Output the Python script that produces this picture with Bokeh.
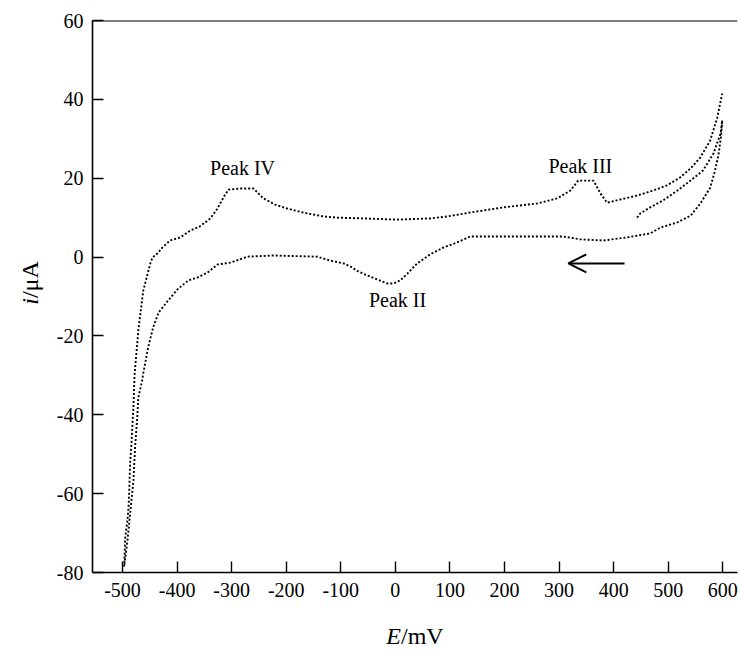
from bokeh.plotting import figure
from bokeh.models import Range1d, FixedTicker, Span, Arrow, OpenHead, Div
from bokeh.layouts import column, row
from bokeh.embed import file_html
from bokeh.resources import INLINE
from bokeh.core.properties import value

# ---- data (E in mV, i in uA) ----
# initial forward scan 443 -> 600 mV
e_start = [443, 449, 467, 491, 517, 541, 564, 583, 596, 599]
i_start = [10.0, 11.1, 12.6, 14.4, 16.9, 19.4, 22.0, 26.3, 31.3, 34.6]

# cathodic scan 600 -> -497 mV (Peak II)
e_cath = [599, 597, 592, 585, 577, 559, 541, 517, 486, 467,
          425, 381, 339, 308, 187, 137, 113, 88, 64, 40,
          22, 9, -3, -15, -33, -51, -70, -82, -95, -119,
          -143, -224, -271, -302, -326, -344, -363, -379, -398, -412,
          -421, -434, -444, -453, -462, -464, -471, -473, -477, -480,
          -486, -491, -497]
i_cath = [34.6, 30.8, 25.8, 21.5, 17.6, 13.6, 10.5, 8.8, 7.5, 6.0,
          5.0, 4.2, 4.5, 5.2, 5.2, 5.2, 3.7, 2.4, 0.7, -1.6,
          -4.2, -5.9, -6.7, -6.7, -5.7, -4.7, -3.5, -2.4, -1.6, -0.9,
          0.1, 0.4, 0.1, -1.4, -1.9, -3.9, -5.2, -5.9, -8.0, -10.3,
          -11.8, -14.1, -17.9, -22.9, -29.5, -31.3, -35.6, -40.7, -48.3, -56.7,
          -65.0, -72.0, -78.5]

# anodic scan -497 -> 600 mV (Peak IV, Peak III)
e_an = [-497, -495, -491, -489, -488, -486, -484, -482, -480, -478,
        -471, -462, -449, -445, -436, -427, -413, -394, -376, -358,
        -339, -326, -315, -306, -284, -260, -242, -220, -198, -169,
        -132, -106, -59, 3, 64, 95, 137, 198, 260, 297,
        321, 335, 363, 376, 388, 412, 443, 473, 498, 522,
        541, 559, 577, 590, 599]
i_an = [-78.5, -71.1, -66.8, -63.5, -60.5, -52.1, -48.3, -43.2, -38.1, -30.0,
        -18.6, -8.5, -1.6, -0.1, 0.9, 2.4, 4.2, 5.0, 6.7, 7.8,
        9.8, 12.3, 15.1, 17.1, 17.4, 17.4, 14.9, 13.3, 12.3, 11.3,
        10.3, 10.0, 9.8, 9.5, 9.8, 10.3, 11.3, 12.6, 13.6, 14.9,
        16.9, 19.4, 19.4, 16.1, 13.8, 14.6, 15.6, 16.9, 18.2, 20.2,
        22.5, 25.3, 29.6, 35.4, 41.5]

peak_names = ["Peak IV", "Peak III", "Peak II"]
peak_e = [-280, 339, 4]
peak_i = [22.5, 23.0, -11.0]

x_ticks = [-500, -400, -300, -200, -100, 0, 100, 200, 300, 400, 500, 600]
x_tick_labels = ["-500", "-400", "-300", "-200", "-100", "0", "100", "200", "300", "400", "500", "600"]
y_ticks = [-80, -60, -40, -20, 0, 20, 40, 60]
y_tick_labels = ["-80", "-60", "-40", "-20", "0", "20", "40", "60"]

arrow_e = [420, 317]
arrow_i = -1.6

FONT = "Liberation Serif"

p = figure(width=690, height=610, output_backend="svg", toolbar_location=None,
           x_range=Range1d(-555, 627), y_range=Range1d(-80, 60),
           min_border_left=42, min_border_right=3, min_border_top=20, min_border_bottom=38,
           margin=0)
p.outline_line_color = None
p.grid.visible = False
p.background_fill_color = "white"
p.border_fill_color = "white"

for ax, ticks, labels in ((p.xaxis[0], x_ticks, x_tick_labels), (p.yaxis[0], y_ticks, y_tick_labels)):
    ax.ticker = FixedTicker(ticks=ticks)
    ax.major_label_overrides = {t: s for t, s in zip(ticks, labels)}
    ax.major_tick_in = 11
    ax.major_tick_out = 0
    ax.minor_tick_line_color = None
    ax.axis_line_width = 1.6
    ax.major_tick_line_width = 1.4
    ax.axis_line_color = "black"
    ax.major_tick_line_color = "black"
    ax.major_label_text_font = FONT
    ax.major_label_text_font_size = "20px"
    ax.major_label_text_color = "black"
p.xaxis.major_label_standoff = 10
p.yaxis.major_label_standoff = 9

p.add_layout(Span(location=60, dimension="width", line_color="black", line_width=2))

for xs, ys in ((e_start, i_start), (e_cath, i_cath), (e_an, i_an)):
    p.line(xs, ys, line_color="black", line_width=1.9, line_dash="2 2")

p.text(x=peak_e, y=peak_i, text=peak_names, text_font=value(FONT), text_font_size="20px",
       text_align="center", text_baseline="middle", text_color="black")

p.add_layout(Arrow(end=OpenHead(size=18, line_width=2, line_color="black"),
                   x_start=arrow_e[0], y_start=arrow_i, x_end=arrow_e[1], y_end=arrow_i,
                   line_width=2, line_color="black"))

title_css = "white-space:nowrap;font-family:'Liberation Serif',serif;font-size:24px;color:black;line-height:1;"
y_title = Div(width=50, height=610, margin=0, text=(
    "<div style='position:relative;width:50px;height:610px;'>"
    "<div style=\"position:absolute;left:30px;top:283px;transform:translate(-50%,-50%) rotate(-90deg);"
    + title_css + "\"><i>i</i>/μA</div></div>"))
x_title = Div(width=740, height=47, margin=0, text=(
    "<div style='position:relative;width:740px;height:47px;'>"
    "<div style=\"position:absolute;left:415px;top:26px;transform:translate(-50%,-50%);"
    + title_css + "\"><i>E</i>/mV</div></div>"))

layout = column(row(y_title, p, spacing=0), x_title, spacing=0)

open("out.html", "w").write(file_html(layout, INLINE))
